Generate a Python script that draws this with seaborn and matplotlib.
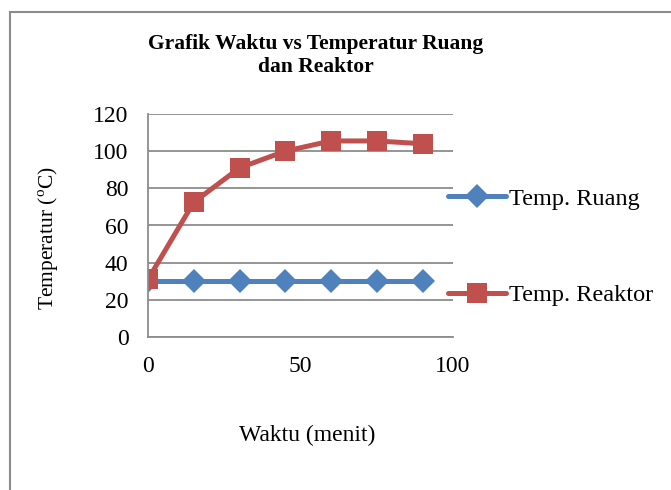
import matplotlib
matplotlib.use("Agg")
import matplotlib.pyplot as plt
import seaborn as sns
import pandas as pd
from matplotlib.patches import Rectangle

waktu = [0, 15, 30, 45, 60, 75, 90]
temp_ruang = [30, 30, 30, 30, 30, 30, 30]
temp_reaktor = [31, 72.5, 91, 100, 105.5, 105.5, 104]

sns.set_style("white")
plt.rcParams["font.family"] = ["Liberation Serif", "DejaVu Serif"]
plt.rcParams["mathtext.fontset"] = "custom"
plt.rcParams["mathtext.rm"] = "Liberation Serif"
plt.rcParams["text.color"] = "black"
plt.rcParams["axes.labelcolor"] = "black"
plt.rcParams["xtick.color"] = "black"
plt.rcParams["ytick.color"] = "black"

fig = plt.figure(figsize=(6.71, 4.90), dpi=100)
ax = fig.add_axes([148 / 671, 1 - 337 / 490, (453 - 148) / 671, (337 - 114) / 490])

df = pd.DataFrame({"waktu": waktu, "ruang": temp_ruang, "reaktor": temp_reaktor})

sns.lineplot(data=df, x="waktu", y="ruang", ax=ax, color="#4F81BD", lw=3.6,
             marker="D", markersize=12.5, markeredgewidth=0, label="Temp. Ruang")
sns.lineplot(data=df, x="waktu", y="reaktor", ax=ax, color="#C0504D", lw=3.6,
             marker="s", markersize=14, markeredgewidth=0, label="Temp. Reaktor")

ax.set_xlim(0, 100)
ax.set_ylim(0, 120)
ax.set_xticks([0, 50, 100])
ax.set_yticks(range(0, 121, 20))
ax.yaxis.grid(True, color="#8C8C8C", lw=1.3)
ax.set_axisbelow(True)
for s in ["top", "right"]:
    ax.spines[s].set_visible(False)
for s in ["left", "bottom"]:
    ax.spines[s].set_color("#8C8C8C")
    ax.spines[s].set_linewidth(1.3)
ax.tick_params(axis="both", length=0, labelsize=17)
ax.tick_params(axis="x", pad=14)
ax.tick_params(axis="y", pad=14)

ax.set_xlabel("Waktu (menit)", fontsize=17, labelpad=34)
ax.xaxis.label.set_x(0.523)
ax.set_ylabel("Temperatur ($^{\\mathrm{o}}$C)", fontsize=15.5, labelpad=23)
ax.yaxis.label.set_y(0.444)

fig.suptitle("Grafik Waktu vs Temperatur Ruang\ndan Reaktor", x=316 / 671, y=1 - 34 / 490,
             fontsize=15.5, fontweight="bold", linespacing=1.2)

leg = ax.legend(loc="upper left", bbox_to_anchor=(0.952, 0.713), frameon=False,
                fontsize=17.5, handlelength=2.4, handletextpad=0.1, labelspacing=3.07,
                borderaxespad=0)

fig.patches.append(Rectangle((10 / 671, -0.05), 1.2, 1 - 12 / 490 + 0.05,
                             transform=fig.transFigure, fill=False,
                             edgecolor="#8C8C8C", lw=1.5))

fig.savefig("out.png", dpi=100)
